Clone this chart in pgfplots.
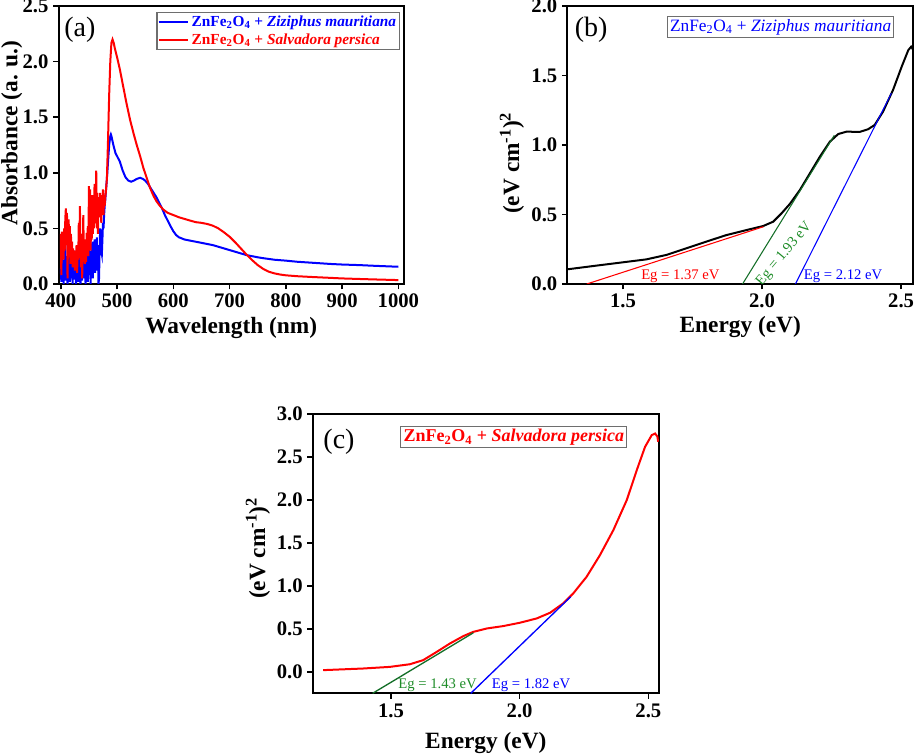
\documentclass[border=0pt]{standalone}
\usepackage{pgfplots}
\pgfplotsset{compat=1.18}
\usepackage{fontspec}
\setmainfont{Liberation Serif}
\definecolor{fitgreen}{RGB}{20,110,40}
\definecolor{txtgreen}{RGB}{30,140,40}
\definecolor{boxgray}{RGB}{110,110,110}

\tikzset{panellbl/.style={font=\fontsize{21}{23}\selectfont}}
\pgfplotsset{
  panel/.style={
    scale only axis,
    axis line style={line width=1.5pt},
    tick style={line width=1.2pt,black},
    tick align=outside,
    major tick length=4pt,
    xtick pos=bottom, ytick pos=left,
    /pgf/number format/assume math mode=true,
    /pgf/number format/1000 sep={},
    tick label style={font=\bfseries\fontsize{15.5}{17}\selectfont},
    label style={font=\bfseries\fontsize{17.5}{20}\selectfont},
    yticklabel style={/pgf/number format/.cd,fixed,fixed zerofill,precision=1},
  },
}

\begin{document}
\begin{tikzpicture}
\useasboundingbox (0,0) rectangle (686.25pt,567pt);

% (a) absorbance
\begin{axis}[panel,
  at={(43.9pt,354pt)}, anchor=south west,
  width=259.1pt, height=208.5pt,
  xmin=396, xmax=1010, ymin=0, ymax=2.5,
  xtick={400,500,...,1000}, ytick={0,0.5,...,2.5},
  xlabel={Wavelength (nm)}, ylabel={Absorbance (a. u.)},
  xlabel style={at={(rel axis cs:0.5,0)}, anchor=center, yshift=-33pt},
  ylabel style={at={(rel axis cs:0,0.543)}, anchor=center, yshift=35pt},
  legend cell align=left,
  legend style={at={(1,1)}, anchor=north east, xshift=-3pt, yshift=-4.5pt,
    draw=boxgray, line width=0.8pt, inner sep=0.5pt,
    font=\bfseries\fontsize{11.5}{14}\selectfont},
  legend image code/.code={\draw[#1] (0pt,0pt) -- (22pt,0pt);},
]
\addplot[blue, line width=1.5pt] coordinates {
(400,0.14)(401,0.02)(402,0.3)(403,0.05)(404,0.18)(405,0.0)(406,0.22)(407,0.08)(408,0.35)(409,0.03)
(410,0.25)(411,0.1)(412,0.0)(413,0.2)(414,0.06)(415,0.28)(416,0.02)(417,0.15)(418,0.32)(419,0.05)
(420,0.18)(421,0.0)(422,0.24)(423,0.1)(424,0.3)(425,0.04)(426,0.16)(427,0.0)(428,0.22)(429,0.12)
(430,0.26)(431,0.02)(432,0.3)(433,0.08)(434,0.2)(435,0.0)(436,0.14)(437,0.28)(438,0.03)(439,0.18)
(440,0.1)(441,0.32)(442,0.05)(443,0.2)(444,0.0)(445,0.26)(446,0.12)(447,0.3)(448,0.02)(449,0.2)
(450,0.36)(451,0.08)(452,0.25)(453,0.0)(454,0.3)(455,0.15)(456,0.38)(457,0.05)(458,0.28)(459,0.18)
(460,0.4)(461,0.1)(462,0.32)(463,0.2)(464,0.42)(465,0.12)(466,0.35)(467,0.0)
(468,0.05)(469,0.3)(470,0.5)(471,0.45)(472,0.3)(473,0.27)(474,0.4)(475,0.55)(476,0.5)(477,0.62)
(478,0.7)(479,0.75)(480,0.82)(482,0.95)(484,1.1)(486,1.25)(488,1.33)(489,1.345)(490,1.33)(493,1.26)
(497,1.18)(501,1.14)(505,1.1)(510,1.02)(515,0.96)(520,0.93)(525,0.92)(530,0.93)(535,0.945)
(541,0.955)(546,0.945)(550,0.93)(555,0.9)(560,0.86)(565,0.82)(570,0.78)(575,0.73)(580,0.68)
(585,0.62)(590,0.57)(595,0.52)(600,0.475)(605,0.44)(610,0.42)(620,0.40)
(630,0.39)(640,0.38)(650,0.37)(660,0.36)(670,0.35)(680,0.335)(690,0.32)(700,0.305)(710,0.29)
(720,0.275)(730,0.26)(740,0.25)(750,0.24)(760,0.232)(770,0.225)(780,0.218)(800,0.21)(820,0.2)
(850,0.19)(880,0.18)(900,0.175)(930,0.17)(960,0.163)(1000,0.155)
};
\addlegendentry{\textcolor{blue}{ZnFe\textsubscript{2}O\textsubscript{4} + \textit{Ziziphus mauritiana}}}
\addplot[red, line width=1.5pt] coordinates {
(400,0.45)(401,0.08)(402,0.47)(403,0.3)(404,0.42)(405,0.22)(406,0.5)(407,0.3)(408,0.58)(409,0.68)
(410,0.38)(411,0.64)(412,0.05)(413,0.5)(414,0.58)(415,0.32)(416,0.52)(417,0.18)(418,0.45)(419,0.28)
(420,0.38)(421,0.15)(422,0.32)(423,0.22)(424,0.3)(425,0.12)(426,0.28)(427,0.2)(428,0.35)(429,0.1)
(430,0.3)(431,0.22)(432,0.55)(433,0.25)(434,0.7)(435,0.28)(436,0.15)(437,0.45)(438,0.05)(439,0.3)
(440,0.62)(441,0.25)(442,0.4)(443,0.18)(444,0.36)(445,0.2)(446,0.46)(447,0.28)(448,0.52)(449,0.25)
(450,0.88)(451,0.38)(452,0.85)(453,0.3)(454,0.62)(455,0.4)(456,0.8)(457,0.45)(458,0.72)(459,0.5)
(460,0.9)(461,0.55)(462,0.62)(463,1.02)(464,0.5)(465,0.82)(466,0.45)(467,0.72)(468,0.78)(469,0.6)
(470,0.82)(471,0.68)(472,0.55)(473,0.8)(474,0.65)(475,0.85)(476,0.62)(477,0.8)(478,0.7)(479,0.78)
(480,0.82)(482,0.95)(484,1.3)(486,1.7)(488,2.0)(490,2.17)(492,2.2)(494,2.17)(496,2.12)(500,2.04)
(505,1.93)(510,1.8)(517,1.62)(523,1.48)(529,1.36)(535,1.25)(541,1.15)(547,1.04)(553,0.95)
(559,0.86)(565,0.79)(570,0.745)(575,0.71)(582,0.67)(590,0.64)(600,0.62)(610,0.6)(620,0.585)
(630,0.57)(640,0.556)(650,0.55)(660,0.54)(670,0.525)(680,0.5)(690,0.465)(700,0.425)(710,0.375)
(720,0.32)(730,0.265)(740,0.215)(750,0.17)(760,0.135)(770,0.11)(780,0.095)(790,0.085)(800,0.078)
(820,0.07)(850,0.062)(880,0.055)(900,0.05)(950,0.042)(1000,0.035)
};
\addlegendentry{\textcolor{red}{ZnFe\textsubscript{2}O\textsubscript{4} + \textit{Salvadora persica}}}
\node[panellbl] at (rel axis cs:0.062,0.914) {(a)};
\end{axis}

% (b) Tauc plot, Ziziphus mauritiana
\begin{axis}[panel,
  at={(425.5pt,354pt)}, anchor=south west,
  width=259.3pt, height=208.5pt,
  xmin=1.30, xmax=2.543, ymin=0, ymax=2,
  xtick={1.5,2,2.5}, ytick={0,0.5,...,2},
  xticklabel style={/pgf/number format/.cd,fixed,fixed zerofill,precision=1},
  xlabel={Energy (eV)}, ylabel={(eV cm\textsuperscript{-1})\textsuperscript{2}},
  xlabel style={at={(rel axis cs:0.5,0)}, anchor=center, yshift=-32pt},
  ylabel style={at={(rel axis cs:0,0.435)}, anchor=center, yshift=41.5pt},
]
\addplot[black, line width=1.5pt] coordinates {
(1.302,0.106)(1.404,0.132)(1.5,0.156)(1.584,0.177)(1.656,0.209)(1.728,0.257)(1.80,0.305)
(1.872,0.352)(1.944,0.388)(2.004,0.417)(2.04,0.448)(2.07,0.508)(2.10,0.576)(2.136,0.676)
(2.172,0.796)(2.208,0.916)(2.244,1.024)(2.274,1.079)(2.304,1.096)(2.351,1.094)(2.381,1.113)
(2.405,1.144)(2.435,1.24)(2.471,1.396)(2.502,1.563)(2.526,1.683)(2.536,1.707)(2.544,1.683)
};
\addplot[red, line width=0.8pt] coordinates {(1.37,0)(2.005,0.412)};
\addplot[fitgreen, line width=0.8pt] coordinates {(1.93,0)(2.26,1.07)};
\addplot[blue, line width=0.8pt] coordinates {(2.12,0)(2.465,1.372)};
\node[red, anchor=south west, font=\fontsize{11}{12}\selectfont, inner sep=1pt] at (axis cs:1.56,0.0) {Eg = 1.37 eV};
\node[blue, anchor=south west, font=\fontsize{11}{12}\selectfont, inner sep=1pt] at (axis cs:2.145,0.0) {Eg = 2.12 eV};
\node[txtgreen, rotate=50, font=\fontsize{11}{12}\selectfont, inner sep=0pt] at (axis cs:2.08,0.215) {Eg = 1.93 eV};
\node[draw=boxgray, line width=0.8pt, fill=white, inner sep=2pt, font=\fontsize{13}{15}\selectfont]
  at (rel axis cs:0.617,0.924) {\textcolor{blue}{ZnFe\textsubscript{2}O\textsubscript{4} + \textit{Ziziphus mauritiana}}};
\node[panellbl] at (rel axis cs:0.069,0.914) {(b)};
\end{axis}

% (c) Tauc plot, Salvadora persica
\begin{axis}[panel,
  at={(234.5pt,47pt)}, anchor=south west,
  width=259.7pt, height=209.3pt,
  xmin=1.196, xmax=2.541, ymin=-0.25, ymax=3,
  xtick={1.5,2,2.5}, ytick={0,0.5,...,3},
  xticklabel style={/pgf/number format/.cd,fixed,fixed zerofill,precision=1},
  xlabel={Energy (eV)}, ylabel={(eV cm\textsuperscript{-1})\textsuperscript{2}},
  xlabel style={at={(rel axis cs:0.5,0)}, anchor=center, yshift=-37pt},
  ylabel style={at={(rel axis cs:0,0.52)}, anchor=center, yshift=41pt},
]
\addplot[red, line width=1.5pt] coordinates {
(1.237,0.02)(1.392,0.039)(1.496,0.058)(1.574,0.089)(1.625,0.136)(1.678,0.233)(1.729,0.33)
(1.781,0.416)(1.82,0.466)(1.872,0.505)(1.936,0.533)(2.001,0.572)(2.066,0.622)(2.118,0.688)
(2.169,0.797)(2.208,0.913)(2.26,1.107)(2.312,1.36)(2.364,1.651)(2.416,2.0)(2.455,2.35)
(2.487,2.62)(2.513,2.757)(2.526,2.776)(2.535,2.74)(2.538,2.68)
};
\addplot[fitgreen, line width=1pt] coordinates {(1.429,-0.25)(1.82,0.455)};
\addplot[blue, line width=1pt] coordinates {(1.81,-0.25)(2.198,0.874)};
\node[txtgreen, anchor=base west, font=\fontsize{11}{12}\selectfont, inner sep=0pt] at (axis cs:1.528,-0.194) {Eg = 1.43 eV};
\node[blue, anchor=base west, font=\fontsize{11}{12}\selectfont, inner sep=0pt] at (axis cs:1.891,-0.194) {Eg = 1.82 eV};
\node[draw=boxgray, line width=0.8pt, fill=white, inner sep=2pt, font=\bfseries\fontsize{13.5}{15}\selectfont]
  at (rel axis cs:0.581,0.919) {\textcolor{red}{ZnFe\textsubscript{2}O\textsubscript{4} + \textit{Salvadora persica}}};
\node[panellbl] at (rel axis cs:0.076,0.90) {(c)};
\end{axis}
\end{tikzpicture}
\end{document}
